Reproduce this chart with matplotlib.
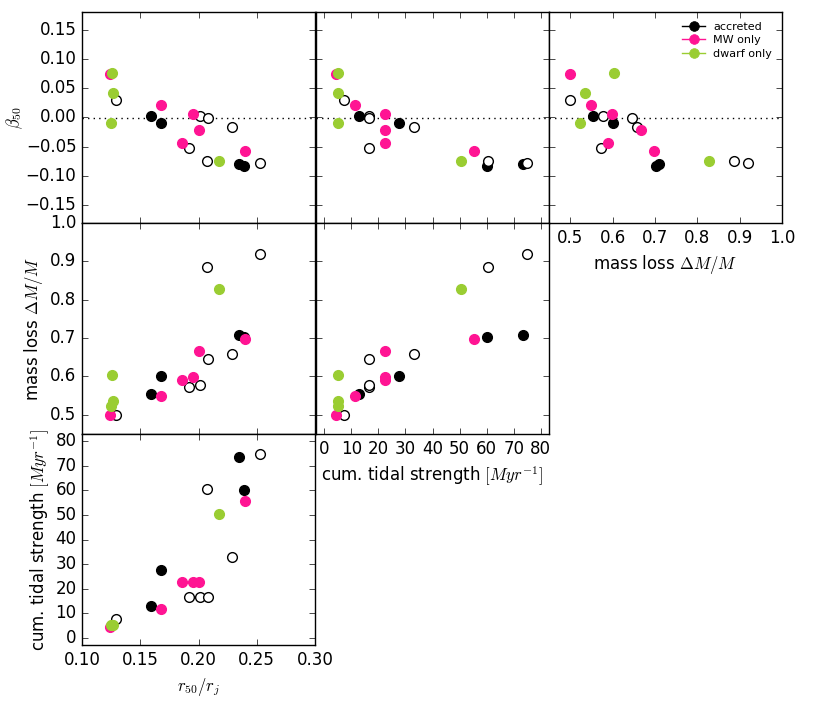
import numpy as np
import matplotlib
matplotlib.use("Agg")
import matplotlib.pyplot as plt

plt.style.use("classic")
plt.rcParams["figure.facecolor"] = "white"
plt.rcParams["savefig.facecolor"] = "white"
plt.rcParams["mathtext.fontset"] = "cm"

# per-group values: r50/rj, cumulative tidal strength, mass loss, beta50
acc_r = [0.159, 0.168, 0.235, 0.239]
acc_tid = [13.0, 27.5, 73.5, 60.0]
acc_ml = [0.553, 0.600, 0.709, 0.703]
acc_beta = [0.003, -0.010, -0.080, -0.082]

mw_r = [0.124, 0.168, 0.186, 0.195, 0.200, 0.240]
mw_tid = [4.5, 11.5, 22.5, 22.5, 22.5, 55.5]
mw_ml = [0.499, 0.550, 0.590, 0.598, 0.667, 0.697]
mw_beta = [0.075, 0.021, -0.044, 0.006, -0.022, -0.058]

dw_r = [0.126, 0.127, 0.125, 0.218]
dw_tid = [5.0, 5.0, 5.0, 50.5]
dw_ml = [0.603, 0.535, 0.524, 0.827]
dw_beta = [0.076, 0.041, -0.009, -0.075]

iso_r = [0.129, 0.192, 0.201, 0.208, 0.207, 0.229, 0.253]
iso_tid = [7.5, 16.5, 16.5, 16.5, 60.5, 33.0, 75.0]
iso_ml = [0.500, 0.572, 0.578, 0.645, 0.886, 0.658, 0.920]
iso_beta = [0.030, -0.052, 0.003, -0.001, -0.075, -0.017, -0.077]

groups = [
    ("accreted", "k", "k", acc_r, acc_tid, acc_ml, acc_beta),
    (None, "k", "white", iso_r, iso_tid, iso_ml, iso_beta),
    ("MW only", "deeppink", "deeppink", mw_r, mw_tid, mw_ml, mw_beta),
    ("dwarf only", "yellowgreen", "yellowgreen", dw_r, dw_tid, dw_ml, dw_beta),
]

W, H = 813.0, 702.0
fig = plt.figure(figsize=(W / 100, H / 100), dpi=100)

lefts = [82, 316, 549]
tops = [12, 223, 434]
pw, ph = 233, 211


def make_ax(col, row):
    return fig.add_axes([lefts[col] / W, 1 - (tops[row] + ph) / H, pw / W, ph / H])


# variable index: 0 r50/rj, 1 tidal, 2 mass loss, 3 beta
lims = {0: (0.10, 0.30), 1: (-3, 83), 2: (0.45, 1.0), 3: (-0.18, 0.18)}
ticks = {0: np.arange(0.10, 0.301, 0.05), 1: np.arange(0, 81, 10),
         2: np.arange(0.5, 1.01, 0.1), 3: np.arange(-0.15, 0.151, 0.05)}
labels = {0: r"$r_{50}/r_j$", 1: r"cum. tidal strength $[Myr^{-1}]$",
          2: r"mass loss $\Delta M/M$", 3: r"$\beta_{50}$"}
# where the left y labels sit (axes fraction)
ylab_x = {3: -0.245, 2: -0.16, 1: -0.13}

# (col, row, xvar, yvar)
panels = [(0, 0, 0, 3), (1, 0, 1, 3), (2, 0, 2, 3),
          (0, 1, 0, 2), (1, 1, 1, 2),
          (0, 2, 0, 1)]

for col, row, xv, yv in panels:
    ax = make_ax(col, row)
    for name, ec, fc, *vals in groups:
        ax.plot(vals[xv], vals[yv], "o", ls="none", mec=ec, mfc=fc,
                ms=7, mew=1.0, label=name)
    if yv == 3:
        ax.axhline(0, color="k", ls=":", lw=1, zorder=0)
    ax.set_xlim(*lims[xv])
    ax.set_ylim(*lims[yv])
    ax.set_xticks(ticks[xv])
    ax.set_yticks(ticks[yv])
    ax.tick_params(labelsize=12)
    if col + row == 2:
        ax.set_xlabel(labels[xv], fontsize=12)
    else:
        ax.set_xticklabels([])
    if col == 0:
        ax.set_ylabel(labels[yv], fontsize=12)
        ax.yaxis.set_label_coords(ylab_x[yv], 0.5)
        if yv == 2:
            ax.set_yticklabels(["0.5", "0.6", "0.7", "0.8", "0.9", "1.0"])
        if yv == 3:
            ax.set_yticklabels(["\u22120.15", "\u22120.10", "\u22120.05",
                                "0.00", "0.05", "0.10", "0.15"])
    else:
        ax.set_yticklabels([])
    if col == 2:
        h, l = ax.get_legend_handles_labels()
        leg_h = []
        for hh in h:
            ln, = ax.plot([], [], "-o", color=hh.get_mfc(), mec=hh.get_mec(), ms=7)
            leg_h.append(ln)
        ax.legend(leg_h, l, loc="upper right", numpoints=1, frameon=False,
                  fontsize=8, handlelength=2.1, handletextpad=0.7,
                  labelspacing=0.3, borderaxespad=0.5)

fig.savefig("out.png", dpi=100)
